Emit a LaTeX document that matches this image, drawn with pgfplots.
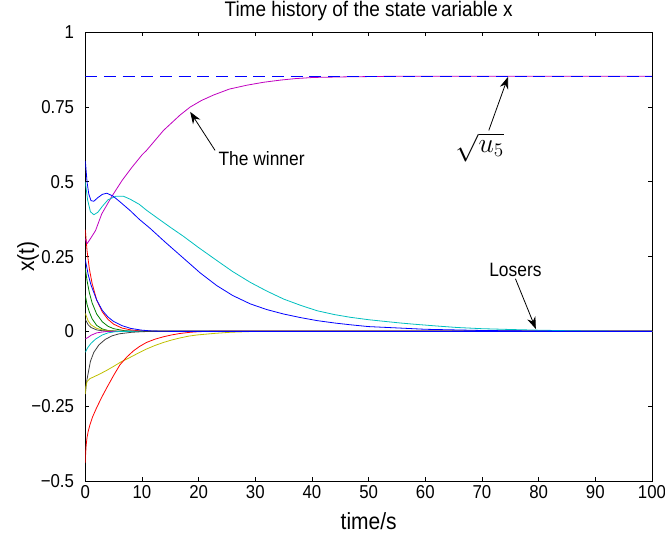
\documentclass[border=0pt]{standalone}
\usepackage{pgfplots}
\pgfplotsset{compat=1.18}
\usepackage{fontspec}
\setmainfont{Liberation Sans}[FakeStretch=0.9]
\usetikzlibrary{arrows.meta}

\definecolor{mblue}{rgb}{0,0,1}
\definecolor{mcyan}{rgb}{0,0.75,0.75}
\definecolor{mmag}{rgb}{0.75,0,0.75}
\definecolor{mred}{rgb}{1,0,0}
\definecolor{mgreen}{rgb}{0,0.5,0}
\definecolor{myel}{rgb}{0.75,0.75,0}
\definecolor{mgray}{rgb}{0.25,0.25,0.25}

\begin{document}
\begin{tikzpicture}
\useasboundingbox (-64pt,-42pt) rectangle (434.75pt,360.7pt);
\begin{axis}[
  at={(0,0)}, anchor=south west,
  scale only axis, width=425pt, height=336.5pt,
  xmin=0, xmax=100, ymin=-0.5, ymax=1,
  xtick={0,10,...,100},
  ytick={-0.5,-0.25,0,0.25,0.5,0.75,1},
  yticklabels={−0.5,−0.25,0,0.25,0.5,0.75,1},
  /pgf/number format/assume math mode=true,
  tick align=inside, major tick length=3pt,
  tick style={black, line width=0.6pt},
  axis line style={line width=0.6pt},
  tick label style={font=\fontsize{14}{16}\selectfont},
  yticklabel style={xshift=-5pt},
  every axis title shift=0pt,
  title={Time history of the state variable x},
  title style={font=\fontsize{15.8}{18}\selectfont, at={(axis description cs:0.5,1.0475)}, anchor=center},
  xlabel={time/s},
  xlabel style={font=\fontsize{17.5}{20}\selectfont, at={(axis description cs:0.5,-0.0892)}, anchor=center},
  ylabel={x(t)},
  ylabel style={font=\fontsize{17.5}{20}\selectfont, at={(axis description cs:-0.1012,0.5)}, anchor=center},
  every axis plot/.append style={no markers, line width=0.6pt, line join=round},
]
% small positive transients
\addplot[mgreen] coordinates {(0,0.12) (0.3,0.09) (0.7,0.065) (1.2,0.042) (2,0.02) (3,0.008) (4,0.003) (6,0) (100,0)};
\addplot[mgreen] coordinates {(0,0.21) (0.3,0.17) (0.7,0.13) (1.2,0.095) (2,0.058) (3,0.032) (4,0.017) (5,0.009) (7,0.002) (9,0) (100,0)};
\addplot[myel] coordinates {(0,0.06) (0.5,0.035) (1,0.022) (2,0.01) (3,0.005) (5,0.001) (7,0) (100,0)};
\addplot[mgray] coordinates {(0,0.04) (0.5,0.022) (1,0.013) (2,0.005) (3,0.002) (5,0) (100,0)};
\addplot[mred] coordinates {(0,0.34) (0.3,0.27) (0.7,0.21) (1.2,0.16) (2,0.105) (3,0.065) (4,0.04) (5,0.024) (6.5,0.011) (8,0.005) (10,0.001) (12,0) (100,0)};
% small negative transients
\addplot[mmag] coordinates {(0,-0.025) (0.5,-0.02) (1,-0.013) (2,-0.005) (3,-0.002) (4,0) (100,0)};
\addplot[mcyan] coordinates {(0,-0.07) (0.4,-0.055) (1,-0.04) (1.8,-0.026) (3,-0.012) (4,-0.005) (5.3,-0.001) (7,0) (100,0)};
\addplot[mgray] coordinates {(0,-0.21) (0.15,-0.18) (0.3,-0.16) (0.9,-0.10) (1.5,-0.07) (2.4,-0.045) (3.5,-0.027) (4.7,-0.015) (6,-0.008) (8.2,-0.003) (10,-0.001) (12,0) (100,0)};
\addplot[myel] coordinates {(0,-0.21) (0.1,-0.185) (0.3,-0.168) (0.8,-0.158) (1.5,-0.152) (2.6,-0.142) (3.8,-0.13) (4.9,-0.118) (6.3,-0.102) (7.9,-0.087) (9.4,-0.072) (10.8,-0.059) (12.3,-0.047) (13.8,-0.037) (15.2,-0.029) (16.7,-0.022) (18.2,-0.016) (19.7,-0.012) (22.6,-0.007) (25.6,-0.003) (27,-0.002) (30,0) (100,0)};
\addplot[mred] coordinates {(0,-0.44) (0.05,-0.41) (0.15,-0.38) (0.3,-0.355) (0.5,-0.335) (0.8,-0.313) (1.3,-0.285) (2,-0.255) (2.9,-0.22) (3.8,-0.188) (5,-0.147) (6.1,-0.112) (7.3,-0.086) (8.5,-0.065) (9.6,-0.05) (10.8,-0.037) (12.3,-0.026) (13.8,-0.018) (15.2,-0.012) (16.7,-0.007) (18.5,-0.003) (20,-0.001) (22,0) (100,0)};
% the winner
\addplot[mmag] coordinates {(0,0.31) (0.3,0.293) (0.9,0.31) (1.8,0.337) (2.9,0.393) (4.7,0.452) (6.5,0.505) (8.2,0.548) (10,0.59) (10.8,0.605) (13.8,0.672) (16.7,0.723) (18.5,0.75) (20.5,0.772) (22.6,0.79) (25.4,0.81) (28.5,0.823) (31.5,0.833) (34.4,0.84) (37,0.845) (40.3,0.849) (46.2,0.851) (55,0.853) (100,0.853)};
% second and third large states
\addplot[mcyan] coordinates {(0,0.5) (0.4,0.44) (0.9,0.40) (1.5,0.39) (2.2,0.398) (3,0.418) (4,0.44) (5.4,0.452) (6.7,0.452) (7.9,0.442) (9.5,0.425) (10.8,0.405) (13,0.375) (15,0.348) (17.3,0.318) (20,0.28) (23.2,0.237) (26,0.2) (29.1,0.164) (32,0.135) (35,0.108) (38,0.087) (40.9,0.069) (44,0.056) (46.8,0.047) (50,0.039) (52,0.035) (55.6,0.028) (58,0.024) (62,0.018) (65.6,0.013) (70,0.009) (75.6,0.006) (80,0.004) (85.8,0.002) (90,0.001) (100,0)};
\addplot[mblue] coordinates {(0,0.24) (0.5,0.19) (1,0.155) (2,0.105) (3,0.07) (4,0.048) (5,0.033) (6.5,0.019) (8,0.01) (10,0.004) (12,0.001) (15,0) (100,0)};
\addplot[color=mblue, line width=0.6pt, dash pattern=on 9pt off 5pt] coordinates {(0,0.853) (100,0.853)};
\addplot[mblue] coordinates {(0,0.57) (0.3,0.5) (0.6,0.46) (1.0,0.437) (1.5,0.435) (2.2,0.447) (3,0.458) (3.8,0.462) (4.9,0.452) (6,0.435) (7.9,0.404) (9.5,0.375) (11.4,0.345) (14,0.3) (17.3,0.245) (20.3,0.195) (23.2,0.153) (26,0.12) (29.1,0.092) (32,0.073) (35,0.058) (38,0.046) (40.9,0.036) (44,0.028) (46.8,0.022) (50,0.016) (55.6,0.011) (60,0.007) (65,0.005) (70,0.003) (80,0.001) (90,0) (100,0)};
% annotations
\draw[-{Stealth[length=9pt,width=6.5pt]}, line width=0.6pt] (axis cs:22.9,0.605) -- (axis cs:18.5,0.734);
\node[font=\fontsize{14.5}{16}\selectfont] at (axis cs:31.1,0.579) {The winner};
\draw[-{Stealth[length=9pt,width=6.5pt]}, line width=0.6pt] (axis cs:71.2,0.672) -- (axis cs:74.6,0.851);
\node[font=\huge] at (axis cs:69.6,0.615) {$\sqrt{u_5}$};
\draw[-{Stealth[length=9pt,width=6.5pt]}, line width=0.6pt] (axis cs:75.9,0.176) -- (axis cs:79.5,0.008);
\node[font=\fontsize{14.5}{16}\selectfont] at (axis cs:75.9,0.207) {Losers};
\end{axis}
\end{tikzpicture}
\end{document}
